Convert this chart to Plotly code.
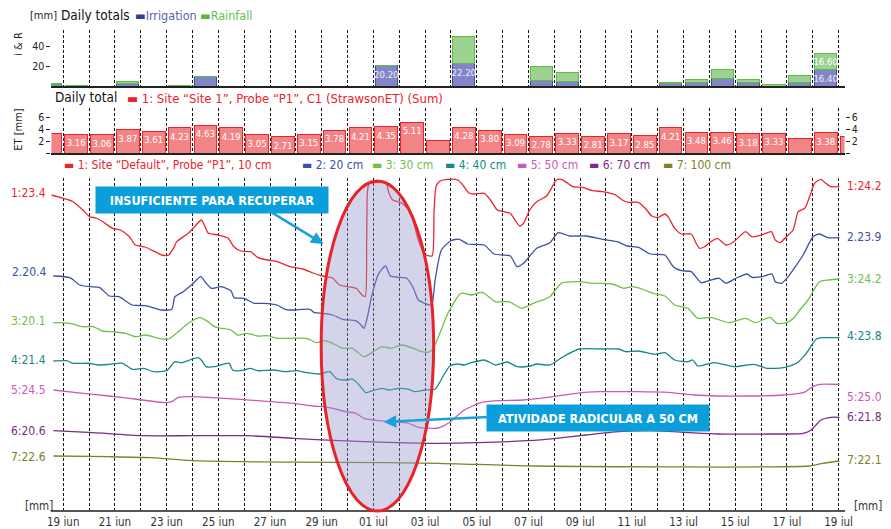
import plotly.graph_objects as go

W, H = 891, 529
FONT = "DejaVu Sans Condensed, Roboto, Arial, sans-serif"
BOLD_FONT = "DejaVu Sans Condensed, Roboto, sans-serif"

# x axis: days since 19 iun (day -1 = 18 iun, only partly visible)
DAYS = list(range(-1, 31))
TICK_LABELS = ["19 iun", "21 iun", "23 iun", "25 iun", "27 iun", "29 iun", "01 iul", "03 iul",
               "05 iul", "07 iul", "09 iul", "11 iul", "13 iul", "15 iul", "17 iul", "19 iul"]

# daily totals [mm]
IRRIGATION = [2, 0, 0, 2.5, 0, 0, 10, 0, 0, 0, 0, 0, 0, 20.2, 0, 0, 22.2, 0, 0, 5.8, 4.8,
              0, 0, 0, 2.5, 3.3, 7.1, 4.0, 0, 4.0, 16.4, 0]
RAINFALL = [1, 1, 0, 2.5, 0, 1, 0, 0, 0, 0, 0, 0, 0, 0, 0, 0, 27.2, 0, 0, 13.5, 8.4,
            0, 0, 0, 1.5, 3.2, 9.9, 2.8, 2.0, 6.9, 16.6, 0]
IRR_TEXT = ["20.20" if v == 20.2 else "22.20" if v == 22.2 else "16.40" if v == 16.4 else ""
            for v in IRRIGATION]
RAIN_TEXT = ["16.60" if v == 16.6 else "" for v in RAINFALL]

# daily ET [mm]
ET_VALUES = [3.2, 3.16, 3.06, 3.87, 3.61, 4.23, 4.63, 4.19, 3.05, 2.71, 3.15, 3.78, 4.21, 4.35,
             5.11, 2.1, 4.28, 3.80, 3.09, 2.78, 3.33, 2.81, 3.17, 2.85, 4.21, 3.48, 3.46, 3.18,
             3.33, 2.4, 3.38, 2.7]
ET_TEXT = ["" if i in (0, 15, 29, 31) else f"{v:.2f}" for i, v in enumerate(ET_VALUES)]

# soil moisture traces, stacked display scale (one band per depth)
X_10 = [-0.46, 0, 0.38, 0.76, 1.02, 1.26, 1.53, 1.91, 2.21, 2.56, 2.79, 3.17, 3.55, 3.82, 4.08,
        4.27, 4.39, 4.85, 5.08, 5.34, 5.46, 5.61, 5.99, 6.37, 6.6, 6.87, 7.25, 7.52, 7.9, 8.28,
        8.78, 9.27, 9.66, 10.04, 10.42, 10.69, 10.99, 11.34, 11.53, 11.68, 11.74, 11.77, 11.83,
        12.21, 12.48, 12.6, 12.75, 13.09, 13.36, 13.55, 13.74, 13.93, 14.05, 14.27, 14.35, 14.43,
        14.58, 14.89, 15.27, 15.46, 15.71, 15.9, 16.29, 16.53, 16.79, 17.05, 17.29, 17.48, 17.66,
        17.81, 18.05, 18.32, 18.7, 18.89, 19.08, 19.27, 19.53, 19.72, 20.1, 20.48, 20.87, 21.37,
        21.63, 21.87, 22.25, 22.52, 22.77, 23.02, 23.28, 23.4, 23.66, 23.92, 24.3, 24.49, 24.62,
        24.81, 25.06, 25.31, 25.64, 25.95, 26.4, 26.64, 27.02, 27.4, 27.55, 27.74, 27.98, 28.24,
        28.44, 28.69, 28.88, 29.07, 29.32, 29.5, 29.71, 30.03]
Y_10 = [195, 198.3, 201.7, 210, 216.7, 218, 221.7, 228.3, 230, 236.7, 245, 247, 251.7, 255, 255,
        248, 241.7, 233, 226.7, 220, 225, 233, 235, 238, 246.7, 251, 251.7, 257.3, 260, 261.7,
        266.7, 269, 273, 276, 278, 285, 286.7, 288.3, 294.3, 296.7, 240, 192, 184,
        182, 182, 193, 200, 203, 210, 222, 240, 252, 255, 256, 210, 186,
        181, 179.3, 180, 185, 193.3, 194, 193.3, 200, 210, 211.7, 213.3, 220, 226,
        223.3, 210, 201.7, 196, 188.3, 180, 179.3, 183.3, 186.7, 187.3, 190.7, 191.7, 195,
        200, 202.3, 202.3, 208.3, 216, 217.3, 214, 216.7, 228.3, 234, 234, 243.3, 248.3,
        246.7, 241.7, 238.3, 245, 241.7, 231.7, 236.7, 235, 231.7, 240, 242.7, 236.7, 230,
        211.7, 208.3, 196.7, 183.3, 179.3, 183.3, 186.7, 186.7]

X_20 = [-0.38, 0.26, 0.64, 1.02, 1.4, 1.78, 2.16, 2.67, 3.18, 3.56, 3.82, 4.2, 4.32, 4.64, 4.96,
        5.32, 5.53, 5.73, 6.11, 6.49, 6.61, 7.0, 7.38, 7.76, 8.27, 8.59, 8.9, 9.54, 9.73, 10.05,
        10.43, 10.81, 11.32, 11.52, 11.64, 11.77, 11.96, 12.21, 12.47, 12.66, 12.98, 13.29,
        13.55, 13.74, 14.0, 14.25, 14.39, 14.63, 15.01, 15.33, 15.65, 16.29, 16.67, 17.3, 17.56,
        17.81, 18.32, 18.83, 19.15, 19.59, 20.23, 20.87, 21.44, 21.82, 22.26, 22.71, 23.28,
        23.6, 23.92, 24.3, 24.68, 25.06, 25.38, 25.64, 26.02, 26.46, 26.65, 27.03, 27.42, 27.55,
        27.8, 28.05, 28.37, 28.63, 29.01, 29.26, 29.58, 30.03]
Y_20 = [276, 277.7, 285, 286.7, 287.3, 296, 296.7, 305, 305.7, 308.3, 310, 309.3, 296.7, 291.7,
        285, 276.7, 283.3, 288.3, 286.7, 290.7, 297.7, 298.3, 303.3, 303.3, 305, 309.3, 310,
        309.3, 312.7, 313.3, 315, 319.3, 320.7, 325, 328.3, 316.7, 293.3, 273.3, 266, 276,
        277.3, 278.3, 288.3, 300, 303.3, 305, 280, 250, 240.5, 239.3, 244, 245, 254, 256, 266.7,
        263.3, 248.3, 242.7, 232.7, 236, 236, 239.3, 241.7, 246, 247.3, 254, 255, 266.7, 270.7,
        271.7, 282.7, 280, 278.3, 283.3, 278.3, 274, 277.3, 276.7, 274, 281.7, 283.3, 276.7,
        265, 255, 236.7, 234, 237.7, 237.7]

X_30 = [-0.38, 0.26, 0.76, 1.15, 1.53, 1.91, 2.42, 2.8, 3.18, 3.69, 4.07, 4.45, 4.84, 5.28, 5.6,
        5.85, 6.11, 6.49, 6.74, 7.13, 7.51, 7.89, 8.27, 8.78, 9.42, 9.8, 10.11, 10.43, 10.81,
        11.19, 11.64, 12.09, 12.34, 12.66, 13.1, 13.55, 13.87, 14.19, 14.38, 14.62, 14.89, 15.39,
        15.78, 16.22, 16.73, 17.24, 17.75, 18.19, 18.83, 19.27, 19.97, 20.48, 21.25, 21.69,
        22.01, 22.39, 22.9, 23.28, 23.66, 24.17, 24.55, 25.06, 25.76, 26.4, 26.78, 27.35, 27.61,
        27.99, 28.31, 28.5, 28.82, 29.26, 29.64, 30.03]
Y_30 = [322.7, 323.3, 326.7, 326.7, 331, 331.7, 333.3, 336.7, 335, 338.3, 339, 331.7, 323.3,
        317.7, 321.7, 326.7, 328.3, 330, 335, 333.3, 336, 335.7, 338.3, 338.3, 338.3, 342.7,
        340.7, 343.3, 348.3, 348.3, 356.7, 350, 346.7, 348.3, 345, 348.3, 351.7, 351.7, 345,
        330, 313, 293.3, 295, 292.3, 301.7, 301.7, 308.3, 303.3, 296.7, 283.3, 281.7, 283.3,
        284, 288.3, 286.7, 289, 294, 296, 305, 308.3, 318.3, 317.3, 322.7, 318.3, 322.7, 317.3,
        323.3, 322.7, 316.7, 310, 300, 281.7, 280, 279]

X_40 = [-0.38, 0.13, 0.38, 1.02, 1.34, 1.78, 2.29, 2.67, 3.12, 3.5, 4.01, 4.2, 4.32, 4.58, 4.9,
        5.22, 5.34, 5.53, 5.85, 6.17, 6.42, 6.55, 6.87, 7.25, 7.51, 8.14, 8.59, 9.03, 9.42, 9.92,
        10.31, 10.56, 10.94, 11.19, 11.45, 11.71, 11.96, 12.34, 12.6, 12.98, 13.36, 13.61, 14.0,
        14.38, 14.76, 14.96, 15.27, 15.52, 15.78, 16.29, 16.73, 17.18, 17.56, 18.07, 18.32, 18.83,
        19.34, 19.97, 20.87, 21.5, 21.76, 22.26, 22.9, 23.28, 23.66, 24.17, 24.36, 24.55, 25.19,
        25.95, 26.72, 27.22, 27.86, 28.37, 28.75, 29.13, 29.39, 30.03]
Y_40 = [361, 360.7, 363.3, 363.3, 365, 364.3, 363.3, 369.3, 368.3, 371.7, 370.7, 365, 361.7,
        362.7, 360, 357.7, 360, 366.7, 366.7, 364.3, 363.3, 370, 370.7, 368.3, 370.7, 370, 371.7,
        370.7, 372.7, 374, 371.7, 378.3, 380, 379, 385, 392.7, 390.7, 388.3, 390, 388.3, 389.3,
        391.7, 390, 389.3, 373.3, 366, 364, 365, 362.7, 360, 365, 362, 366.7, 366, 364, 365,
        356.7, 349, 349, 349, 351.7, 351, 354.3, 352.7, 360, 361.7, 360, 366, 362.7, 366.7,
        364.3, 368.3, 367.7, 363.3, 353.3, 339.3, 337.7, 337.7]

X_50 = [-0.38, 0.51, 1.78, 3.05, 3.94, 4.2, 4.45, 4.96, 6.23, 7.51, 8.9, 9.67, 10.05, 10.43,
        10.94, 11.32, 11.64, 12.21, 12.72, 13.36, 13.74, 14.5, 14.89, 15.52, 16.16, 16.79,
        17.81, 18.96, 19.85, 20.74, 22.14, 23.41, 24.43, 25.32, 26.59, 27.86, 28.63, 29.01,
        29.26, 30.03]
Y_50 = [390, 392.7, 396, 400, 402.7, 401.7, 397.3, 396.7, 398.3, 400.7, 403.3, 406, 406.7,
        408.3, 411.7, 413.3, 418.3, 420.7, 421.7, 423.3, 427.3, 428, 423.3, 410, 402.7, 400.7,
        400, 396.7, 393.3, 391.7, 391.7, 392.3, 395, 396, 396, 395, 392.7, 386.7, 384.3, 384.3]

X_70 = [-0.38, 1.15, 3.05, 4.96, 7.13, 8.9, 10.69, 12.6, 14.5, 16.03, 17.94, 19.08, 20.23,
        21.5, 22.77, 24.05, 25.32, 27.22, 28.63, 28.94, 29.32, 29.71, 30.03]
Y_70 = [430.7, 432.7, 435.7, 435.7, 435.7, 438.3, 440.7, 442.3, 443.3, 442.7, 440.7, 438.3,
        435, 431.7, 430.7, 432.3, 434, 434, 433.3, 430, 420, 417.3, 417.3]

X_100 = [-0.38, 1.78, 3.44, 4.96, 6.87, 10.69, 14.5, 18.32, 28.88, 29.39, 30.03]
Y_100 = [456, 456.7, 457.7, 460.7, 461.7, 462.3, 463.3, 466, 466, 463.3, 461]

SERIES = [
    ("1: Site \u201cDefault\u201d, Probe \u201cP1\u201d, 10 cm", X_10, Y_10, "#E8262D"),
    ("2: 20 cm", X_20, Y_20, "#3F4FA6"),
    ("3: 30 cm", X_30, Y_30, "#6DC04B"),
    ("4: 40 cm", X_40, Y_40, "#14898A"),
    ("5: 50 cm", X_50, Y_50, "#C85AB6"),
    ("6: 70 cm", X_70, Y_70, "#7C2B86"),
    ("7: 100 cm", X_100, Y_100, "#80802C"),
]
START_LABELS = ["1:23.4", "2.20.4", "3:20.1", "4:21.4", "5:24.5", "6:20.6", "7:22.6"]
END_LABELS = ["1:24.2", "2.23.9", "3:24.2", "4:23.8", "5:25.0", "6:21.8", "7:22.1"]
START_Y = [193, 272, 321, 360, 390, 431, 457]
END_Y = [186, 237, 279, 336, 397, 417, 460]


def px(x):
    return x / W


def py(y):
    return 1 - y / H


X_RANGE = [-0.46, 30.23]
tickvals = list(range(31))
ticktext = [TICK_LABELS[i // 2] if i % 2 == 0 else "" for i in tickvals]
centers = [d + 0.5 for d in DAYS]

fig = go.Figure()

bar_text = dict(textposition="inside", insidetextanchor="end", textangle=0,
                constraintext="none", showlegend=False)
fig.add_trace(go.Bar(
    x=centers, y=IRRIGATION, xaxis="x2", yaxis="y2", width=0.86,
    marker=dict(color="#8286C6", line=dict(color="#3E4BA0", width=1)),
    text=IRR_TEXT, textfont=dict(color="#EEEEF8", size=9.5, family=FONT), **bar_text,
))
fig.add_trace(go.Bar(
    x=centers, y=RAINFALL, xaxis="x2", yaxis="y2", width=0.86,
    marker=dict(color="#9DD190", line=dict(color="#5DBB46", width=1)),
    text=RAIN_TEXT, textfont=dict(color="#FFFFFF", size=9.5, family=FONT), **bar_text,
))
fig.add_trace(go.Bar(
    x=centers, y=ET_VALUES, xaxis="x3", yaxis="y3", width=0.88,
    marker=dict(color="#F38485", line=dict(color="#E8232A", width=1)),
    text=ET_TEXT, textfont=dict(color="#FFFFFF", size=9.5, family=FONT), **bar_text,
))
fig.add_trace(go.Scatter(x=[None], y=[None], xaxis="x3", yaxis="y4", showlegend=False))

for name, xs, ys, color in SERIES:
    fig.add_trace(go.Scatter(
        x=xs, y=ys, mode="lines", name=name, showlegend=False,
        line=dict(color=color, width=1.3, shape="spline", smoothing=0.6),
    ))

grid = dict(showgrid=True, gridcolor="#111111", griddash="3px,2px", gridwidth=1.3,
            tickvals=tickvals, range=X_RANGE, zeroline=False,
            domain=[px(48), px(852)], ticks="")
fig.update_layout(
    width=W, height=H,
    margin=dict(l=0, r=0, t=0, b=0),
    paper_bgcolor="white", plot_bgcolor="rgba(0,0,0,0)",
    font=dict(family=FONT, color="#222222"),
    barmode="stack", bargap=0.1,
    xaxis=dict(**grid, anchor="y", ticktext=ticktext, showline=True, linecolor="#555555",
               linewidth=2, tickfont=dict(size=11.5, color="#333333")),
    xaxis2=dict(**grid, anchor="y2", showticklabels=False, showline=True,
                linecolor="#222222", linewidth=1.5),
    xaxis3=dict(**grid, anchor="y3", showticklabels=False, showline=True,
                linecolor="#222222", linewidth=1.5),
    yaxis=dict(domain=[py(510), py(178)], range=[510, 178], visible=False),
    yaxis2=dict(domain=[py(86), py(30)], range=[0, 56], tickvals=[20, 40], ticks="outside",
                ticklen=4, tickcolor="#222222", showgrid=False, zeroline=False,
                tickfont=dict(size=10.5)),
    yaxis3=dict(domain=[py(153), py(108)], range=[0, 7.5], tickvals=[0, 2, 4, 6],
                ticktext=["", "2", "4", "6"], ticks="outside", ticklen=4, tickcolor="#222222",
                showgrid=False, zeroline=False, tickfont=dict(size=10.5)),
    yaxis4=dict(overlaying="y3", side="right", anchor="x3", range=[0, 7.5],
                tickvals=[0, 2, 4, 6], ticktext=["", "2", "4", "6"], ticks="outside",
                ticklen=4, tickcolor="#222222", showgrid=False, zeroline=False,
                tickfont=dict(size=10.5)),
)

# highlighted period
fig.add_shape(type="circle", xref="paper", yref="paper",
              x0=px(321.5), x1=px(435.5), y0=py(511), y1=py(181),
              fillcolor="rgba(150,150,205,0.42)", line=dict(color="#E8232A", width=3),
              layer="above")

ann = []


def text(x, y, s, size=13, color="#222222", anchor="left", angle=0):
    ann.append(dict(x=px(x), y=py(y), xref="paper", yref="paper", text=s, showarrow=False,
                    xanchor=anchor, yanchor="middle", textangle=angle,
                    font=dict(size=size, color=color, family=FONT)))


def dash(c):
    return f"<span style='color:{c}'>\u25ac</span>"


# headers
text(24, 15, "[mm]", 11)
text(56, 15, "Daily totals", 13.5, "#111111")
text(131, 15, dash("#2C3E96") + "<span style='color:#5963B0'>Irrigation</span>", 12.5)
text(197, 15, dash("#56B83F") + "<span style='color:#66BE52'>Rainfall</span>", 12.5)
text(14, 44, "i & R", 11, angle=-90, anchor="center")
text(50, 97, "Daily total", 13.5, "#111111")
text(123, 98, dash("#E8232A") + " 1: Site \u201cSite 1\u201d, Probe \u201cP1\u201d, C1 (StrawsonET) (Sum)",
     13, "#E8232A")
text(14, 129, "ET [mm]", 11, angle=-90, anchor="center")

legend_x = [59, 300, 371, 445, 518, 591, 666]
for (name, _, _, color), lx in zip(SERIES, legend_x):
    text(lx, 165, dash(color) + " " + name, 12, color)

for (name, _, _, color), s, e, ys, ye in zip(SERIES, START_LABELS, END_LABELS, START_Y, END_Y):
    text(45, ys, s, 12, color, anchor="right")
    text(852, ye, e, 12, color)

text(19, 506, "[mm]", 11.5, "#333333")
text(860, 506, "[mm]", 11.5, "#333333")

# callouts
for cx, cy, s, w in [(211, 200, "INSUFICIENTE PARA RECUPERAR", 224),
                     (602, 417.5, "ATIVIDADE RADICULAR A 50 CM", 214)]:
    ann.append(dict(x=px(cx), y=py(cy), xref="paper", yref="paper", text=f"<b>{s}</b>",
                    xanchor="center", yanchor="middle",
                    showarrow=False, bgcolor="#0A9FDB", width=w, height=18, borderpad=4,
                    font=dict(size=12.5, color="white", family=BOLD_FONT)))
for tx, ty, ax, ay in [(324, 244, -56, -34), (385, 422, 106, -5)]:
    ann.append(dict(x=px(tx), y=py(ty), xref="paper", yref="paper", text="", showarrow=True,
                    ax=ax, ay=ay, arrowcolor="#1BA0DB", arrowwidth=2.5, arrowhead=2,
                    arrowsize=1, standoff=0))

fig.update_layout(annotations=ann)
fig.write_html("out.html", config={"displayModeBar": False},
               post_script="document.body.style.margin='0';")
